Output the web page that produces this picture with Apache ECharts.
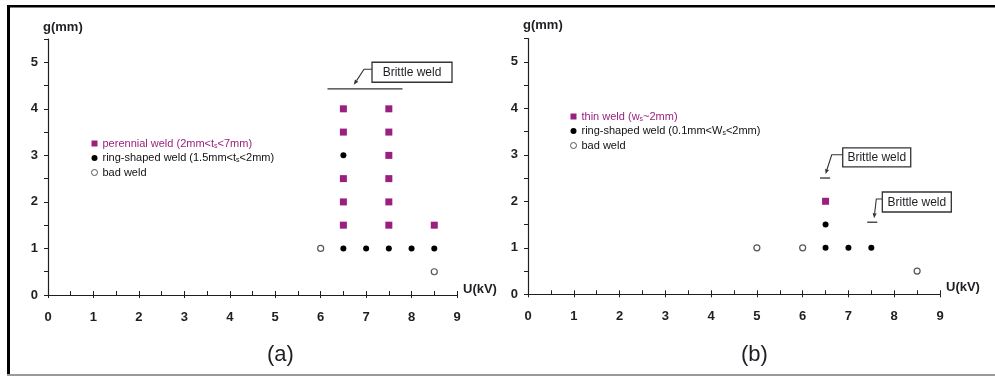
<!DOCTYPE html>
<html>
<head>
<meta charset="utf-8">
<script src="https://cdn.jsdelivr.net/npm/echarts@6/dist/echarts.min.js"></script>
<style>
  html, body { margin: 0; padding: 0; background: #fff; }
  #chart { width: 995px; height: 376px; }
</style>
</head>
<body>
<div id="chart"></div>
<script>
// ---- (a) process map: perennial / ring-shaped / bad welds ----
const perennialA = [[6.5, 1.5], [6.5, 2], [6.5, 2.5], [6.5, 3.5], [6.5, 4],
                    [7.5, 1.5], [7.5, 2], [7.5, 2.5], [7.5, 3], [7.5, 3.5], [7.5, 4],
                    [8.5, 1.5]];
const ringA = [[6.5, 3], [6.5, 1], [7, 1], [7.5, 1], [8, 1], [8.5, 1]];
const badA = [[6, 1], [8.5, 0.5]];

// ---- (b) process map: thin / ring-shaped / bad welds ----
const thinB = [[6.5, 2]];
const ringB = [[6.5, 1.5], [6.5, 1], [7, 1], [7.5, 1]];
const badB = [[5, 1], [6, 1], [8.5, 0.5]];

// axis ranges
const xRange = [0, 9];
const yRange = [0, 5.5];

// series names
const NAME_PER = 'perennial weld (2mm<ts<7mm)';
const NAME_RING_A = 'ring-shaped weld (1.5mm<ts<2mm)';
const NAME_THIN = 'thin weld (ws~2mm)';
const NAME_RING_B = 'ring-shaped weld (0.1mm<Ws<2mm)';
const NAME_BAD = 'bad weld';

// "Brittle weld" callouts: bar [x0, x1, y], box top-left [x, y], arrow tip x
const calloutsA = [[6.15, 7.8, 4.43, 7.13, 5.0, 6.73, 80, 20, 8]];
const calloutsB = [[6.38, 6.6, 2.5, 6.875, 3.15, 6.5, 68, 19, 11],
                   [7.41, 7.63, 1.55, 7.74, 2.2, 7.56, 69, 20, 6]];

const PURPLE = '#9b1f7f';
const INK = '#1e1e24';
const FONT = '"Liberation Sans", Arial, sans-serif';

const chart = echarts.init(document.getElementById('chart'), null, { renderer: 'canvas' });

function xAxes(grid) {
  return [
    {
      gridIndex: grid, type: 'value', position: 'bottom', min: xRange[0], max: xRange[1], interval: 0.5,
      axisLine: { onZero: false, lineStyle: { color: INK, width: 1.2 } },
      axisTick: { inside: true, length: 4, lineStyle: { color: INK } },
      splitLine: { show: false },
      axisLabel: {
        margin: 16, color: INK, fontFamily: FONT, fontWeight: 'bold', fontSize: 13,
        formatter: v => (Number.isInteger(v) ? String(v) : '')
      }
    },
    {
      gridIndex: grid, type: 'value', position: 'bottom', min: xRange[0], max: xRange[1], interval: 1,
      axisLine: { show: false, onZero: false },
      axisTick: { inside: false, length: 3, lineStyle: { color: INK } },
      splitLine: { show: false },
      axisLabel: { show: false }
    }
  ];
}

function yAxis(grid) {
  return {
    gridIndex: grid, type: 'value', min: yRange[0], max: yRange[1], interval: 0.5,
    axisLine: { show: true, onZero: false, lineStyle: { color: INK, width: 1.2 } },
    axisTick: { show: true, inside: false, length: 4, lineStyle: { color: INK } },
    splitLine: { show: false },
    axisLabel: {
      margin: 10, color: INK, fontFamily: FONT, fontWeight: 'bold', fontSize: 13,
      formatter: v => (Number.isInteger(v) ? String(v) : '')
    }
  };
}

function scatter(name, data, xi, yi, kind) {
  const s = { name, type: 'scatter', data, xAxisIndex: xi, yAxisIndex: yi, z: 3 };
  if (kind === 'square') {
    s.symbol = 'rect'; s.symbolSize = 7; s.itemStyle = { color: PURPLE, opacity: 1 };
  } else if (kind === 'dot') {
    s.symbol = 'circle'; s.symbolSize = 6; s.itemStyle = { color: '#000', opacity: 1 };
  } else {
    s.symbol = 'circle'; s.symbolSize = 6;
    s.itemStyle = { color: '#fff', borderColor: '#555', borderWidth: 1.2, opacity: 1 };
  }
  return s;
}

function calloutSeries(data, xi, yi) {
  return {
    type: 'custom', xAxisIndex: xi, yAxisIndex: yi, data, silent: true, z: 4,
    renderItem(params, api) {
      const p0 = api.coord([api.value(0), api.value(2)]);
      const p1 = api.coord([api.value(1), api.value(2)]);
      const box = api.coord([api.value(3), api.value(4)]);
      const tipX = api.coord([api.value(5), api.value(2)])[0];
      const bw = api.value(6), bh = api.value(7), reach = api.value(8);
      const ly = box[1] + 7;
      const bendX = box[0] - reach;
      const tip = [tipX, p0[1] - 4];
      const dx = tip[0] - bendX, dy = tip[1] - ly;
      const len = Math.sqrt(dx * dx + dy * dy);
      const ux = dx / len, uy = dy / len;
      const base = [tip[0] - ux * 5, tip[1] - uy * 5];
      const nx = -uy * 2, ny = ux * 2;
      return {
        type: 'group',
        children: [
          { type: 'line', shape: { x1: p0[0], y1: p0[1], x2: p1[0], y2: p1[1] },
            style: { stroke: '#333', lineWidth: 1.3 } },
          { type: 'rect', shape: { x: box[0], y: box[1], width: bw, height: bh },
            style: { fill: '#fff', stroke: '#333', lineWidth: 1.3 } },
          { type: 'text', style: { text: 'Brittle weld', x: box[0] + bw / 2, y: box[1] + bh / 2 + 0.5,
            textAlign: 'center', textVerticalAlign: 'middle', fill: INK, font: '12px ' + FONT } },
          { type: 'polyline', shape: { points: [[box[0], ly], [bendX, ly], base] },
            style: { stroke: '#333', lineWidth: 1.1, fill: null } },
          { type: 'polygon', shape: { points: [tip, [base[0] + nx, base[1] + ny], [base[0] - nx, base[1] - ny]] },
            style: { fill: '#333' } }
        ]
      };
    }
  };
}

const sub = { fontSize: 7, fontFamily: FONT, padding: [5, 0, 0, 0] };
const legendRich = {
  p: { color: PURPLE, fontSize: 11, fontFamily: FONT },
  ps: Object.assign({ color: PURPLE }, sub),
  k: { color: '#111', fontSize: 11, fontFamily: FONT },
  ks: Object.assign({ color: '#111' }, sub)
};
const legendText = {
  [NAME_PER]: '{p|perennial weld (2mm<t}{ps|s}{p|<7mm)}',
  [NAME_RING_A]: '{k|ring-shaped weld (1.5mm<t}{ks|s}{k|<2mm)}',
  [NAME_THIN]: '{p|thin weld (w}{ps|s}{p|~2mm)}',
  [NAME_RING_B]: '{k|ring-shaped weld (0.1mm<W}{ks|s}{k|<2mm)}',
  [NAME_BAD]: '{k|bad weld}'
};

function legend(left, top, names) {
  return {
    orient: 'vertical', left, top, itemWidth: 6, itemHeight: 6, itemGap: 3,
    selectedMode: false, padding: 0,
    textStyle: { fontSize: 11, fontFamily: FONT, rich: legendRich },
    formatter: n => legendText[n],
    data: names.map((n, i) => ({
      name: n,
      icon: i === 0 ? 'rect' : 'circle',
      itemStyle: i === 0 ? { color: PURPLE, opacity: 1 }
        : i === 1 ? { color: '#000', opacity: 1 }
        : { color: '#fff', borderColor: '#555', borderWidth: 1, opacity: 1 }
    }))
  };
}

function txt(text, x, y, size, weight, align) {
  return { type: 'text', x, y, silent: true,
    style: { text, font: (weight || 'normal') + ' ' + size + 'px ' + FONT, fill: INK,
      textAlign: align || 'left', textVerticalAlign: 'middle' } };
}

chart.setOption({
  animation: false,
  backgroundColor: '#fff',
  grid: [
    { left: 48, right: 538, top: 39, bottom: 81 },
    { left: 528, right: 55, top: 38.5, bottom: 81.7 }
  ],
  xAxis: [...xAxes(0), ...xAxes(1)],
  yAxis: [yAxis(0), yAxis(1)],
  legend: [
    legend(91, 138, [NAME_PER, NAME_RING_A, NAME_BAD]),
    legend(570, 111, [NAME_THIN, NAME_RING_B, NAME_BAD])
  ],
  series: [
    scatter(NAME_PER, perennialA, 0, 0, 'square'),
    scatter(NAME_RING_A, ringA, 0, 0, 'dot'),
    scatter(NAME_BAD, badA, 0, 0, 'open'),
    calloutSeries(calloutsA, 0, 0),
    scatter(NAME_THIN, thinB, 2, 1, 'square'),
    scatter(NAME_RING_B, ringB, 2, 1, 'dot'),
    scatter(NAME_BAD, badB, 2, 1, 'open'),
    calloutSeries(calloutsB, 2, 1)
  ],
  graphic: [
    // frame
    { type: 'rect', shape: { x: 7, y: 5, width: 988, height: 2.5 }, style: { fill: '#000' }, silent: true },
    { type: 'rect', shape: { x: 7, y: 5, width: 3, height: 371 }, style: { fill: '#000' }, silent: true },
    { type: 'rect', shape: { x: 7, y: 374, width: 988, height: 2 }, style: { fill: '#9a9a9a' }, silent: true },
    // axis names and panel tags
    txt('g(mm)', 43, 27, 13, 'bold'),
    txt('U(kV)', 463, 289, 13, 'bold'),
    txt('(a)', 267, 355, 22),
    txt('g(mm)', 523, 25, 13, 'bold'),
    txt('U(kV)', 946, 287, 13, 'bold'),
    txt('(b)', 741, 355, 22)
  ]
});
</script>
</body>
</html>
